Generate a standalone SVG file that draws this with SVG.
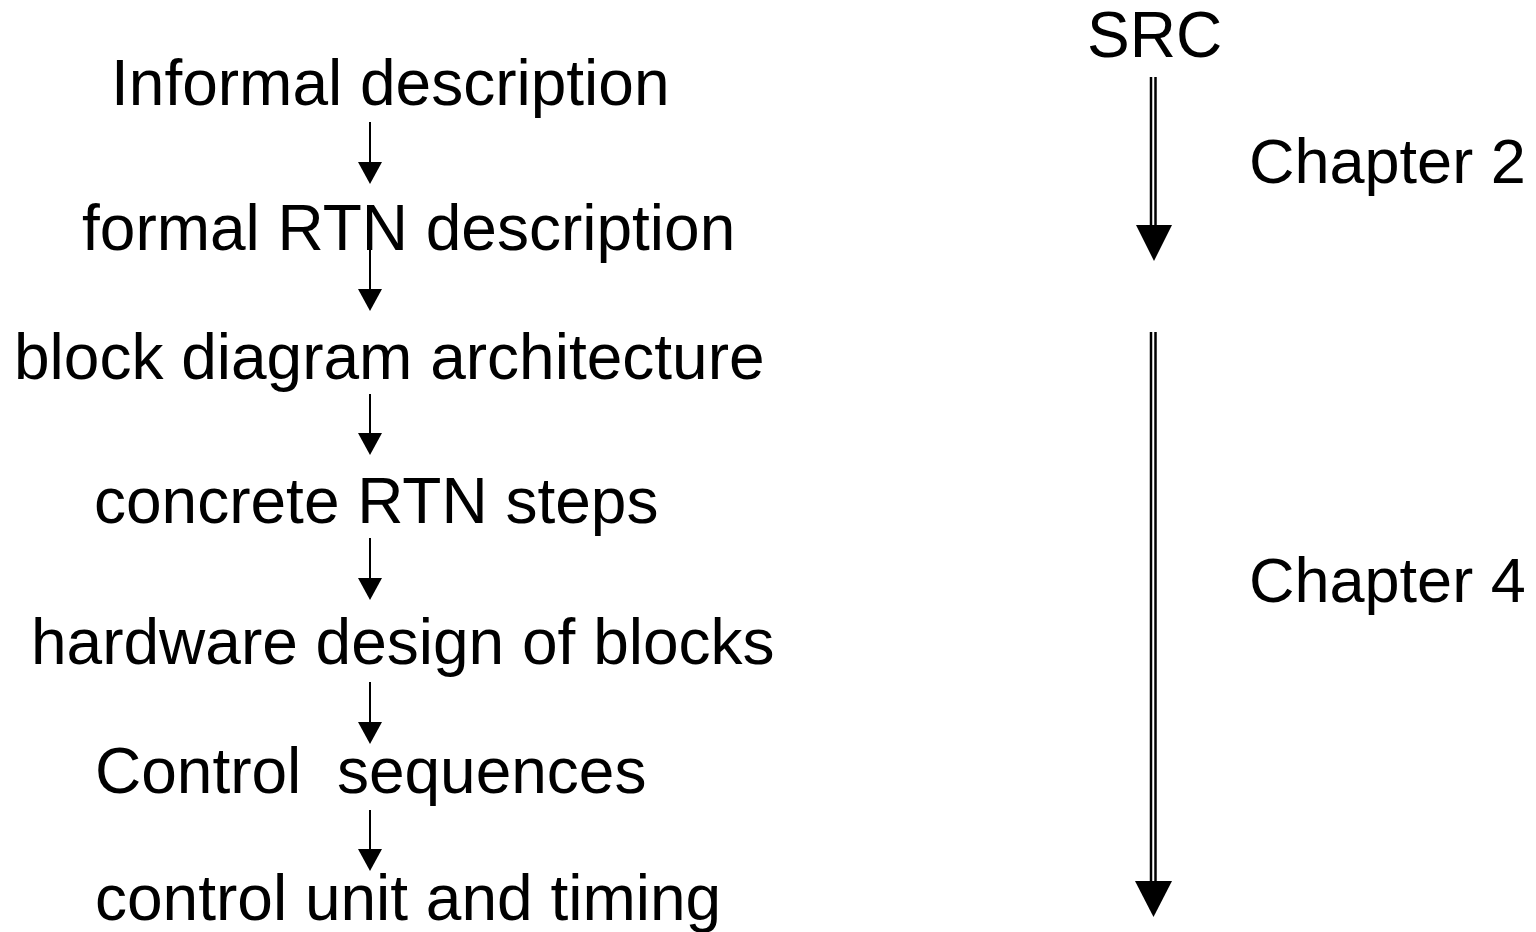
<svg xmlns="http://www.w3.org/2000/svg" width="1536" height="932" viewBox="0 0 1536 932">
<style>
text{font-family:"Liberation Sans",Arial,Helvetica,sans-serif;fill:#000}
.s{font-size:64px}
.c{font-size:63px}
.ln{stroke:#000;stroke-width:2;fill:none}
.dl{stroke:#000;stroke-width:2.5;fill:none}
.hd{fill:#000}
</style>
<rect width="1536" height="932" fill="#fff"/>
<g id="n1"><text class="s" x="111" y="105">Informal description</text></g>
<g id="n2"><text class="s" x="82" y="250">formal RTN description</text></g>
<g id="n3"><text class="s" x="14" y="379">block diagram architecture</text></g>
<g id="n4"><text class="s" x="94" y="523">concrete RTN steps</text></g>
<g id="n5"><text class="s" x="31" y="664">hardware design of blocks</text></g>
<g id="n6"><text class="s" x="95" y="793" xml:space="preserve" style="white-space:pre">Control  sequences</text></g>
<g id="n7"><text class="s" x="95" y="920">control unit and timing</text></g>
<g id="src"><text class="s" x="1087" y="57">SRC</text></g>
<g id="ch2"><text class="c" x="1249" y="183">Chapter 2</text></g>
<g id="ch4"><text class="c" x="1249" y="602">Chapter 4</text></g>
<g id="connectors">
<line class="ln" x1="370" y1="122" x2="370" y2="165"/>
<path class="hd" d="M358,162 L382,162 L370,184 Z"/>
<line class="ln" x1="370" y1="232" x2="370" y2="292"/>
<path class="hd" d="M358,289 L382,289 L370,311 Z"/>
<line class="ln" x1="370" y1="394" x2="370" y2="436"/>
<path class="hd" d="M358,433 L382,433 L370,455 Z"/>
<line class="ln" x1="370" y1="538" x2="370" y2="581"/>
<path class="hd" d="M358,578 L382,578 L370,600 Z"/>
<line class="ln" x1="370" y1="682" x2="370" y2="725"/>
<path class="hd" d="M358,722 L382,722 L370,744 Z"/>
<line class="ln" x1="370" y1="810" x2="370" y2="852"/>
<path class="hd" d="M358,849 L382,849 L370,871 Z"/>
<line class="dl" x1="1151" y1="77" x2="1151" y2="228"/>
<line class="dl" x1="1155.5" y1="77" x2="1155.5" y2="228"/>
<path class="hd" d="M1136,225 L1172,225 L1154,261 Z"/>
<line class="dl" x1="1151" y1="332" x2="1151" y2="884"/>
<line class="dl" x1="1155.5" y1="332" x2="1155.5" y2="884"/>
<path class="hd" d="M1135,881 L1172,881 L1153.5,917 Z"/>
</g>
</svg>
